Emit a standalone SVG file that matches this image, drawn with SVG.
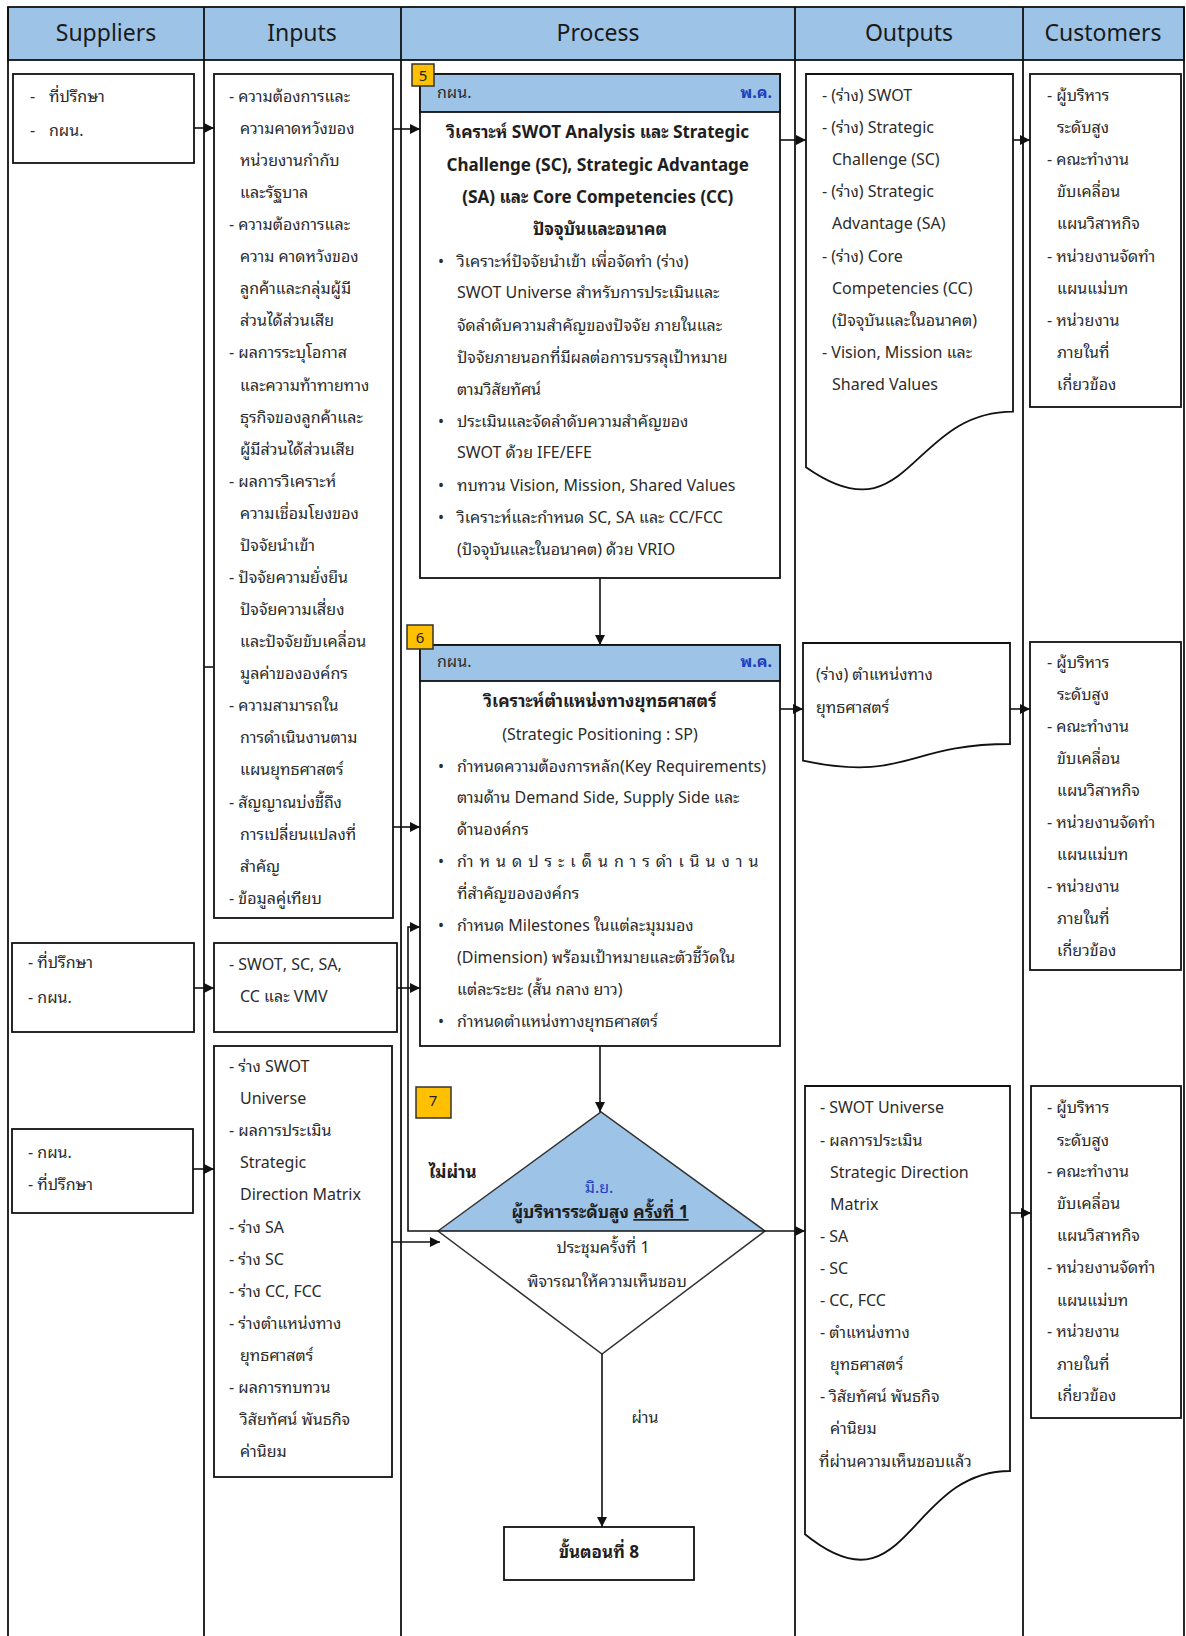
<svg xmlns="http://www.w3.org/2000/svg" width="1186" height="1636" viewBox="0 0 1186 1636">
  <style>
    .hdr { font-family: 'Noto Sans', 'Open Sans', 'DejaVu Sans', sans-serif; font-size: 23px; fill: #1a1a1a; text-anchor: middle; }
    .t { font-family: 'Noto Sans Thai Looped', 'Noto Sans Thai', 'Noto Sans', 'DejaVu Sans', sans-serif; font-size: 16px; fill: #2b2b2b; }
    .tb { font-family: 'Noto Sans Thai Looped', 'Noto Sans Thai', 'Noto Sans', 'DejaVu Sans', sans-serif; font-size: 17px; font-weight: bold; fill: #1e1e1e; }
    .mid { text-anchor: middle; }
    .end { text-anchor: end; }
    .blue { fill: #1f3fc0; }
    .box { fill: #fff; stroke: #111; stroke-width: 1.8; }
    .band { fill: #9dc3e6; stroke: #111; stroke-width: 1.8; }
    .badge { fill: #ffc000; stroke: #333; stroke-width: 1.5; }
    .grid { stroke: #111; stroke-width: 1.8; fill: none; }
    .conn { stroke: #111; stroke-width: 1.6; fill: none; }
    .num { font-family: 'Noto Sans', 'DejaVu Sans', sans-serif; font-size: 15px; fill: #222; text-anchor: middle; }
  </style>
  <defs>
    <marker id="arrow" viewBox="0 0 10 10" refX="10" refY="5" markerWidth="10" markerHeight="10" markerUnits="userSpaceOnUse" orient="auto">
      <path d="M0,0 L10,5 L0,10 Z" fill="#111"/>
    </marker>
  </defs>

  <rect width="1186" height="1636" fill="#fff"/>

  <!-- SIPOC table: header row and column rules -->
  <g id="table">
    <rect x="8" y="7" width="1176" height="53" fill="#9dc3e6" stroke="#111" stroke-width="1.8"/>
    <line class="grid" x1="8" y1="7" x2="8" y2="1636"/>
    <line class="grid" x1="204" y1="7" x2="204" y2="1636"/>
    <line class="grid" x1="401" y1="7" x2="401" y2="1636"/>
    <line class="grid" x1="795" y1="7" x2="795" y2="1636"/>
    <line class="grid" x1="1023" y1="7" x2="1023" y2="1636"/>
    <line class="grid" x1="1184" y1="7" x2="1184" y2="1636"/>
    <text class="hdr" x="106" y="41">Suppliers</text>
    <text class="hdr" x="302" y="41">Inputs</text>
    <text class="hdr" x="598" y="41">Process</text>
    <text class="hdr" x="909" y="41">Outputs</text>
    <text class="hdr" x="1103" y="41">Customers</text>
  </g>

  <!-- Suppliers -->
  <g id="supplier-1">
    <rect class="box" x="13" y="74" width="181" height="89"/>
    <text class="t" x="30" y="102">-</text><text class="t" x="49" y="102">ที่ปรึกษา</text>
    <text class="t" x="30" y="136">-</text><text class="t" x="49" y="136">กผน.</text>
  </g>
  <g id="supplier-2">
    <rect class="box" x="12" y="943" width="182" height="89"/>
    <text class="t" x="28" y="968">- ที่ปรึกษา</text>
    <text class="t" x="28" y="1003">- กผน.</text>
  </g>
  <g id="supplier-3">
    <rect class="box" x="12" y="1129" width="181" height="84"/>
    <text class="t" x="28" y="1158">- กผน.</text>
    <text class="t" x="28" y="1190">- ที่ปรึกษา</text>
  </g>

  <!-- Inputs -->
  <g id="input-1">
    <rect class="box" x="214" y="74" width="179" height="844"/>
    <text class="t">
      <tspan x="229" y="102">- ความต้องการและ</tspan>
      <tspan x="240" y="134">ความคาดหวังของ</tspan>
      <tspan x="240" y="166">หน่วยงานกำกับ</tspan>
      <tspan x="240" y="198">และรัฐบาล</tspan>
      <tspan x="229" y="230">- ความต้องการและ</tspan>
      <tspan x="240" y="262">ความ คาดหวังของ</tspan>
      <tspan x="240" y="294">ลูกค้าและกลุ่มผู้มี</tspan>
      <tspan x="240" y="326">ส่วนได้ส่วนเสีย</tspan>
      <tspan x="229" y="358">- ผลการระบุโอกาส</tspan>
      <tspan x="240" y="391">และความท้าทายทาง</tspan>
      <tspan x="240" y="423">ธุรกิจของลูกค้าและ</tspan>
      <tspan x="240" y="455">ผู้มีส่วนได้ส่วนเสีย</tspan>
      <tspan x="229" y="487">- ผลการวิเคราะห์</tspan>
      <tspan x="240" y="519">ความเชื่อมโยงของ</tspan>
      <tspan x="240" y="551">ปัจจัยนำเข้า</tspan>
      <tspan x="229" y="583">- ปัจจัยความยั่งยืน</tspan>
      <tspan x="240" y="615">ปัจจัยความเสี่ยง</tspan>
      <tspan x="240" y="647">และปัจจัยขับเคลื่อน</tspan>
      <tspan x="240" y="679">มูลค่าขององค์กร</tspan>
      <tspan x="229" y="711">- ความสามารถใน</tspan>
      <tspan x="240" y="743">การดำเนินงานตาม</tspan>
      <tspan x="240" y="775">แผนยุทธศาสตร์</tspan>
      <tspan x="229" y="808">- สัญญาณบ่งชี้ถึง</tspan>
      <tspan x="240" y="840">การเปลี่ยนแปลงที่</tspan>
      <tspan x="240" y="872">สำคัญ</tspan>
      <tspan x="229" y="904">- ข้อมูลคู่เทียบ</tspan>
    </text>
  </g>
  <g id="input-2">
    <rect class="box" x="214" y="943" width="183" height="89"/>
    <text class="t">
      <tspan x="229" y="970">- SWOT, SC, SA,</tspan>
      <tspan x="240" y="1002">CC และ VMV</tspan>
    </text>
  </g>
  <g id="input-3">
    <rect class="box" x="214" y="1046" width="178" height="431"/>
    <text class="t">
      <tspan x="229" y="1072">- ร่าง SWOT</tspan>
      <tspan x="240" y="1104">Universe</tspan>
      <tspan x="229" y="1136">- ผลการประเมิน</tspan>
      <tspan x="240" y="1168">Strategic</tspan>
      <tspan x="240" y="1200">Direction Matrix</tspan>
      <tspan x="229" y="1233">- ร่าง SA</tspan>
      <tspan x="229" y="1265">- ร่าง SC</tspan>
      <tspan x="229" y="1297">- ร่าง CC, FCC</tspan>
      <tspan x="229" y="1329">- ร่างตำแหน่งทาง</tspan>
      <tspan x="240" y="1361">ยุทธศาสตร์</tspan>
      <tspan x="229" y="1393">- ผลการทบทวน</tspan>
      <tspan x="240" y="1425">วิสัยทัศน์ พันธกิจ</tspan>
      <tspan x="240" y="1457">ค่านิยม</tspan>
    </text>
  </g>

  <!-- Process step 5 -->
  <g id="step-5">
    <rect class="box" x="420" y="74" width="360" height="504"/>
    <rect class="band" x="420" y="74" width="360" height="38"/>
    <rect class="badge" x="412" y="64" width="22" height="22"/>
    <text class="num" x="423" y="81">5</text>
    <text class="t" x="437" y="98">กผน.</text>
    <text class="t end blue" x="772" y="98" font-weight="bold">พ.ค.</text>
    <text class="tb mid">
      <tspan x="600" y="138">วิเคราะห์ SWOT Analysis และ Strategic</tspan>
      <tspan x="600" y="171">Challenge (SC), Strategic Advantage</tspan>
      <tspan x="600" y="203">(SA) และ Core Competencies (CC)</tspan>
      <tspan x="600" y="235">ปัจจุบันและอนาคต</tspan>
    </text>
    <text class="t">
      <tspan x="438" y="267">•</tspan><tspan x="457" y="267">วิเคราะห์ปัจจัยนำเข้า เพื่อจัดทำ (ร่าง)</tspan>
      <tspan x="457" y="298">SWOT Universe สำหรับการประเมินและ</tspan>
      <tspan x="457" y="331">จัดลำดับความสำคัญของปัจจัย ภายในและ</tspan>
      <tspan x="457" y="363">ปัจจัยภายนอกที่มีผลต่อการบรรลุเป้าหมาย</tspan>
      <tspan x="457" y="395">ตามวิสัยทัศน์</tspan>
      <tspan x="438" y="427">•</tspan><tspan x="457" y="427">ประเมินและจัดลำดับความสำคัญของ</tspan>
      <tspan x="457" y="458">SWOT ด้วย IFE/EFE</tspan>
      <tspan x="438" y="491">•</tspan><tspan x="457" y="491">ทบทวน Vision, Mission, Shared Values</tspan>
      <tspan x="438" y="523">•</tspan><tspan x="457" y="523">วิเคราะห์และกำหนด SC, SA และ CC/FCC</tspan>
      <tspan x="457" y="555">(ปัจจุบันและในอนาคต) ด้วย VRIO</tspan>
    </text>
  </g>

  <!-- Process step 6 -->
  <g id="step-6">
    <rect class="box" x="420" y="645" width="360" height="401"/>
    <rect class="band" x="420" y="645" width="360" height="36"/>
    <rect class="badge" x="407" y="625" width="26" height="24"/>
    <text class="num" x="420" y="643">6</text>
    <text class="t" x="437" y="667">กผน.</text>
    <text class="t end blue" x="772" y="667" font-weight="bold">พ.ค.</text>
    <text class="tb mid">
      <tspan x="600" y="707">วิเคราะห์ตำแหน่งทางยุทธศาสตร์</tspan>
    </text>
    <text class="t mid">
      <tspan x="600" y="740">(Strategic Positioning : SP)</tspan>
    </text>
    <text class="t">
      <tspan x="438" y="772">•</tspan><tspan x="457" y="772">กำหนดความต้องการหลัก(Key Requirements)</tspan>
      <tspan x="457" y="803">ตามด้าน Demand Side, Supply Side และ</tspan>
      <tspan x="457" y="835">ด้านองค์กร</tspan>
      <tspan x="438" y="867">•</tspan><tspan x="457" y="867" letter-spacing="6">กำหนดประเด็นการดำเนินงาน</tspan>
      <tspan x="457" y="899">ที่สำคัญขององค์กร</tspan>
      <tspan x="438" y="931">•</tspan><tspan x="457" y="931">กำหนด Milestones ในแต่ละมุมมอง</tspan>
      <tspan x="457" y="963">(Dimension) พร้อมเป้าหมายและตัวชี้วัดใน</tspan>
      <tspan x="457" y="995">แต่ละระยะ (สั้น กลาง ยาว)</tspan>
      <tspan x="438" y="1027">•</tspan><tspan x="457" y="1027">กำหนดตำแหน่งทางยุทธศาสตร์</tspan>
    </text>
  </g>

  <!-- Process step 7: decision -->
  <g id="step-7">
    <path d="M438,1231 L601,1112 L765,1231 Z" fill="#9dc3e6"/>
    <path d="M438,1231 L601,1112 L765,1231 L602,1354 Z" fill="none" stroke="#333" stroke-width="1.5"/>
    <line x1="438" y1="1231" x2="765" y2="1231" stroke="#111" stroke-width="1.5"/>
    <rect class="badge" x="416" y="1087" width="35" height="31"/>
    <text class="num" x="433" y="1106">7</text>
    <text class="t mid blue" x="599" y="1193">มิ.ย.</text>
    <text class="tb mid" x="600" y="1218" font-size="16">ผู้บริหารระดับสูง <tspan text-decoration="underline">ครั้งที่ 1</tspan></text>
    <text class="t mid" x="603" y="1253">ประชุมครั้งที่ 1</text>
    <text class="t mid" x="607" y="1287">พิจารณาให้ความเห็นชอบ</text>
  </g>

  <!-- Next step -->
  <g id="step-8">
    <rect class="box" x="504" y="1527" width="190" height="53"/>
    <text class="tb mid" x="599" y="1558" font-size="16">ขั้นตอนที่ 8</text>
  </g>

  <!-- Outputs -->
  <g id="output-1">
    <path class="box" d="M806,74 H1013 V411.6 C909.5,411.6 909.5,540 806,467.2 Z"/>
    <text class="t">
      <tspan x="822" y="101">- (ร่าง) SWOT</tspan>
      <tspan x="822" y="133">- (ร่าง) Strategic</tspan>
      <tspan x="832" y="165">Challenge (SC)</tspan>
      <tspan x="822" y="197">- (ร่าง) Strategic</tspan>
      <tspan x="832" y="229">Advantage (SA)</tspan>
      <tspan x="822" y="262">- (ร่าง) Core</tspan>
      <tspan x="832" y="294">Competencies (CC)</tspan>
      <tspan x="832" y="326">(ปัจจุบันและในอนาคต)</tspan>
      <tspan x="822" y="358">- Vision, Mission และ</tspan>
      <tspan x="832" y="390">Shared Values</tspan>
    </text>
  </g>
  <g id="output-2">
    <path class="box" d="M803,643 H1010 V744 C906.5,744 906.5,782.5 803,760.7 Z"/>
    <text class="t">
      <tspan x="816" y="680">(ร่าง) ตำแหน่งทาง</tspan>
      <tspan x="816" y="713">ยุทธศาสตร์</tspan>
    </text>
  </g>
  <g id="output-3">
    <path class="box" d="M805,1086 H1010 V1471 C907.5,1471 907.5,1617.4 805,1534.3 Z"/>
    <text class="t">
      <tspan x="820" y="1113">- SWOT Universe</tspan>
      <tspan x="820" y="1146">- ผลการประเมิน</tspan>
      <tspan x="830" y="1178">Strategic Direction</tspan>
      <tspan x="830" y="1210">Matrix</tspan>
      <tspan x="820" y="1242">- SA</tspan>
      <tspan x="820" y="1274">- SC</tspan>
      <tspan x="820" y="1306">- CC, FCC</tspan>
      <tspan x="820" y="1338">- ตำแหน่งทาง</tspan>
      <tspan x="830" y="1370">ยุทธศาสตร์</tspan>
      <tspan x="820" y="1402">- วิสัยทัศน์ พันธกิจ</tspan>
      <tspan x="830" y="1434">ค่านิยม</tspan>
      <tspan x="819" y="1467">ที่ผ่านความเห็นชอบแล้ว</tspan>
    </text>
  </g>

  <!-- Customers -->
  <g id="customer-1">
    <rect class="box" x="1030" y="74" width="151" height="333"/>
    <text class="t">
      <tspan x="1047" y="101">- ผู้บริหาร</tspan>
      <tspan x="1057" y="133">ระดับสูง</tspan>
      <tspan x="1047" y="165">- คณะทำงาน</tspan>
      <tspan x="1057" y="197">ขับเคลื่อน</tspan>
      <tspan x="1057" y="229">แผนวิสาหกิจ</tspan>
      <tspan x="1047" y="262">- หน่วยงานจัดทำ</tspan>
      <tspan x="1057" y="294">แผนแม่บท</tspan>
      <tspan x="1047" y="326">- หน่วยงาน</tspan>
      <tspan x="1057" y="358">ภายในที่</tspan>
      <tspan x="1057" y="390">เกี่ยวข้อง</tspan>
    </text>
  </g>
  <g id="customer-2">
    <rect class="box" x="1030" y="642" width="151" height="328"/>
    <text class="t">
      <tspan x="1047" y="668">- ผู้บริหาร</tspan>
      <tspan x="1057" y="700">ระดับสูง</tspan>
      <tspan x="1047" y="732">- คณะทำงาน</tspan>
      <tspan x="1057" y="764">ขับเคลื่อน</tspan>
      <tspan x="1057" y="796">แผนวิสาหกิจ</tspan>
      <tspan x="1047" y="828">- หน่วยงานจัดทำ</tspan>
      <tspan x="1057" y="860">แผนแม่บท</tspan>
      <tspan x="1047" y="892">- หน่วยงาน</tspan>
      <tspan x="1057" y="924">ภายในที่</tspan>
      <tspan x="1057" y="956">เกี่ยวข้อง</tspan>
    </text>
  </g>
  <g id="customer-3">
    <rect class="box" x="1031" y="1086" width="150" height="332"/>
    <text class="t">
      <tspan x="1047" y="1113">- ผู้บริหาร</tspan>
      <tspan x="1057" y="1146">ระดับสูง</tspan>
      <tspan x="1047" y="1177">- คณะทำงาน</tspan>
      <tspan x="1057" y="1209">ขับเคลื่อน</tspan>
      <tspan x="1057" y="1241">แผนวิสาหกิจ</tspan>
      <tspan x="1047" y="1273">- หน่วยงานจัดทำ</tspan>
      <tspan x="1057" y="1306">แผนแม่บท</tspan>
      <tspan x="1047" y="1337">- หน่วยงาน</tspan>
      <tspan x="1057" y="1370">ภายในที่</tspan>
      <tspan x="1057" y="1401">เกี่ยวข้อง</tspan>
    </text>
  </g>

  <!-- Connectors -->
  <g id="connectors" class="conn">
    <line x1="194" y1="128" x2="214" y2="128" marker-end="url(#arrow)"/>
    <line x1="393" y1="129" x2="420" y2="129" marker-end="url(#arrow)"/>
    <line x1="780" y1="140" x2="806" y2="140" marker-end="url(#arrow)"/>
    <line x1="1013" y1="140" x2="1030" y2="140" marker-end="url(#arrow)"/>
    <line x1="600" y1="578" x2="600" y2="645" marker-end="url(#arrow)"/>
    <line x1="393" y1="827" x2="420" y2="827" marker-end="url(#arrow)"/>
    <line x1="204" y1="667" x2="213" y2="667"/>
    <line x1="780" y1="709" x2="803" y2="709" marker-end="url(#arrow)"/>
    <line x1="1010" y1="709" x2="1030" y2="709" marker-end="url(#arrow)"/>
    <line x1="194" y1="988" x2="214" y2="988" marker-end="url(#arrow)"/>
    <line x1="397" y1="988" x2="420" y2="988" marker-end="url(#arrow)"/>
    <line x1="600" y1="1046" x2="600" y2="1112" marker-end="url(#arrow)"/>
    <line x1="193" y1="1169" x2="214" y2="1169" marker-end="url(#arrow)"/>
    <line x1="392" y1="1242" x2="440" y2="1242" marker-end="url(#arrow)"/>
    <polyline points="438,1231 408,1231 408,927 420,927" marker-end="url(#arrow)"/>
    <line x1="765" y1="1231" x2="805" y2="1231" marker-end="url(#arrow)"/>
    <line x1="1010" y1="1213" x2="1031" y2="1213" marker-end="url(#arrow)"/>
    <line x1="602" y1="1354" x2="602" y2="1527" marker-end="url(#arrow)"/>
  </g>
  <text class="tb" x="429" y="1178" font-size="16">ไม่ผ่าน</text>
  <text class="t mid" x="645" y="1423">ผ่าน</text>
</svg>
